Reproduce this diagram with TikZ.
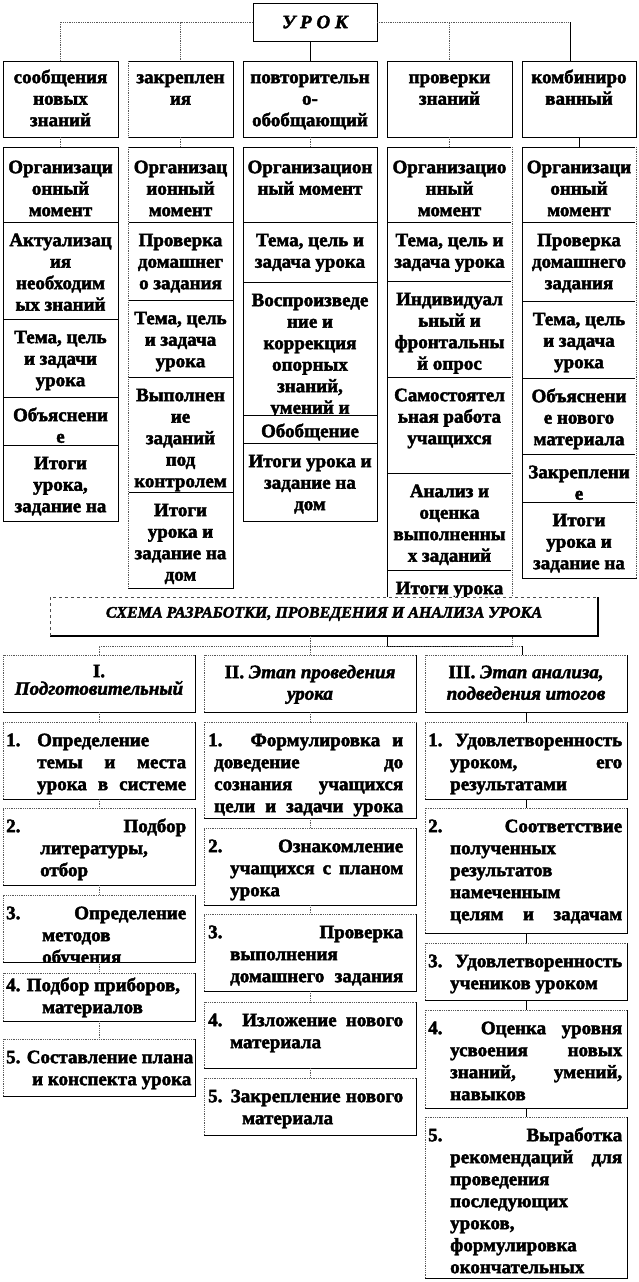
\documentclass[tikz,border=0pt]{standalone}
\usepackage{fontspec}
\setmainfont{Liberation Serif}
\newfontfamily\hb[FakeBold=2.3]{Liberation Serif Bold}
\newfontfamily\hbi[FakeBold=2.3]{Liberation Serif Bold Italic}
\usetikzlibrary{calc}
\tikzset{
  bx/.style={draw=black, line width=0.8pt, inner sep=0pt, outer sep=0pt},
  nb/.style={draw=none, inner sep=0pt, outer sep=0pt},
  ct/.style={align=center, inner sep=0pt, font=\hb\fontsize{19}{21.5}\selectfont},
  lt/.style={align=left, inner sep=0pt, font=\hb\fontsize{19}{22}\selectfont},
  dl/.style={draw=black!65, line width=0.8pt, densely dotted},
  sl/.style={draw=black, line width=0.8pt},
  conn/.style={draw=black!65, line width=0.8pt, densely dotted},
  connS/.style={draw=black, line width=0.8pt},
}
\newcommand\frameA[5]{\node[bx, minimum width={(#4-#2)*1pt}, minimum height={(#5-#3)*1pt}, anchor=north west] (#1) at (#2,#3) {};}
\newcommand\frameB[5]{\node[nb, minimum width={(#4-#2)*1pt}, minimum height={(#5-#3)*1pt}, anchor=north west] (#1) at (#2,#3) {};
  \draw[sl] (#1.north east) -- (#1.south east) -- (#1.south west);
  \draw[dl] (#1.south west) -- (#1.north west) -- (#1.north east);}
\newcommand\ctxt[6]{\begin{scope}\clip (#1.north west) rectangle (#1.south east);
  \node[ct, anchor=north] (#1t) at ({(#2+#4)/2},{#3+#5-17}) {\rule{0pt}{17pt}#6};\end{scope}}
\newcommand\cellC[7]{\frameA{#1}{#2}{#3}{#4}{#5}\ctxt{#1}{#2}{#3}{#4}{#6}{#7}}
\newcommand\cellD[7]{\frameB{#1}{#2}{#3}{#4}{#5}\ctxt{#1}{#2}{#3}{#4}{#6}{#7}}
\newcommand\cellL[8]{\frameB{#1}{#2}{#3}{#4}{#5}%
  \begin{scope}\clip (#1.north west) rectangle (#1.south east);
  \node[lt, anchor=north west] (#1t) at (#6,{#3+#7-17}) {\rule{0pt}{17pt}#8};\end{scope}}
\begin{document}
\begin{tikzpicture}[x=1pt,y=-1pt]
\fill[white] (0,0) rectangle (639,1282);
\useasboundingbox (0,0) rectangle (639,1282);
% ---------- top part ----------
\node[bx, minimum width=124pt, minimum height=38pt, anchor=north west] (urok) at (253,3) {};
\node[inner sep=0pt, font=\hbi\fontsize{19}{21}\selectfont] (urokt) at (315,22) {У Р О К};

\cellC{t1}{3}{61}{118}{137}{22}{сообщения\\новых\\знаний}
\cellC{t2}{128}{61}{233}{137}{22}{закреплен\\ия}
\cellC{t3}{243}{61}{377}{137}{22}{повторительн\\о-\\обобщающий}
\cellC{t4}{387}{61}{512}{137}{22}{проверки\\знаний}
\cellC{t5}{522}{61}{636}{137}{22}{комбиниро\\ванный}

\cellC{c1a}{3}{147}{118}{222}{26}{Организаци\\онный\\момент}
\cellC{c1b}{3}{222}{118}{319}{24}{Актуализац\\ия\\необходим\\ых знаний}
\cellC{c1c}{3}{319}{118}{397}{24}{Тема, цель\\и задачи\\урока}
\cellC{c1d}{3}{397}{118}{445}{24}{Объяснени\\е}
\cellC{c1e}{3}{445}{118}{521}{24}{Итоги\\урока,\\задание на}

\cellC{c2a}{128}{147}{233}{222}{26}{Организац\\ионный\\момент}
\cellC{c2b}{128}{222}{233}{300}{24}{Проверка\\домашнег\\о задания}
\cellC{c2c}{128}{300}{233}{377}{24}{Тема, цель\\и задача\\урока}
\cellC{c2d}{128}{377}{233}{492}{24}{Выполнен\\ие\\заданий\\под\\контролем}
\cellC{c2e}{128}{492}{233}{588}{24}{Итоги\\урока и\\задание на\\дом}

\cellC{c3a}{243}{147}{377}{222}{26}{Организацион\\ный момент}
\cellC{c3b}{243}{222}{377}{282}{24}{Тема, цель и\\задача урока}
\cellC{c3c}{243}{282}{377}{415}{24}{Воспроизведе\\ние и\\коррекция\\опорных\\знаний,\\умений и}
\cellC{c3d}{243}{415}{377}{443}{22}{Обобщение}
\cellC{c3e}{243}{443}{377}{521}{24}{Итоги урока и\\задание на\\дом}

\cellC{c4a}{387}{147}{512}{222}{26}{Организацио\\нный\\момент}
\cellC{c4b}{387}{222}{512}{281}{24}{Тема, цель и\\задача урока}
\cellC{c4c}{387}{281}{512}{377}{24}{Индивидуал\\ьный и\\фронтальны\\й опрос}
\cellC{c4d}{387}{377}{512}{473}{24}{Самостоятел\\ьная работа\\учащихся}
\cellC{c4e}{387}{473}{512}{570}{24}{Анализ и\\оценка\\выполненны\\х заданий}
\cellC{c4f}{387}{570}{512}{646}{24}{Итоги урока}

\cellC{c5a}{522}{147}{636}{222}{26}{Организаци\\онный\\момент}
\cellC{c5b}{522}{222}{636}{301}{24}{Проверка\\домашнего\\задания}
\cellC{c5c}{522}{301}{636}{378}{24}{Тема, цель\\и задача\\урока}
\cellC{c5d}{522}{378}{636}{454}{24}{Объяснени\\е нового\\материала}
\cellC{c5e}{522}{454}{636}{502}{24}{Закреплени\\е}
\cellC{c5f}{522}{502}{636}{578}{24}{Итоги\\урока и\\задание на}

% dotted column edges
\draw[white, line width=1.2pt] (t2.north west) -- (t2.south west) (c2a.north west) -- (c2e.south west)
  (c4a.north east) -- (c4f.south east) (c5a.north east) -- (c5f.south east);
\draw[dl] (t2.north west) -- (t2.south west) (c2a.north west) -- (c2e.south west)
  (c4a.north east) -- (c4f.south east) (c5a.north east) -- (c5f.south east);

% top connectors
\coordinate (k5) at (570,22);
\draw[conn] (urok.west) -| (t1.north);
\draw[conn] (urok.west) -| (t2.north);
\draw[connS] (urok.south -| t3.north) -- (t3.north);
\draw[conn] (urok.east) -| (t4.north);
\draw[conn] (urok.east) -- (k5);
\draw[connS] (k5) -- (k5 |- t5.north);
\draw[conn] (t1.south) -- (c1a.north);
\draw[conn] (t2.south) -- (c2a.north);
\draw[conn] (t3.south) -- (c3a.north);
\draw[conn] (t4.south) -- (c4a.north);
\draw[connS] (t5.south) -- (c5a.north);

% ---------- scheme title ----------
\node[nb, fill=white, minimum width=548pt, minimum height=39pt, anchor=north west] (sch) at (50,597) {};
\draw[draw=black, line width=1.4pt] (sch.north east) -- (sch.south east) -- (sch.south west);
\draw[draw=black!70, line width=0.8pt, dashed] (sch.south west) -- (sch.north west) -- (sch.north east);
\node[inner sep=0pt, font=\hbi\fontsize{16}{18}\selectfont] (scht) at (324,614) {СХЕМА РАЗРАБОТКИ, ПРОВЕДЕНИЯ И АНАЛИЗА УРОКА};

% ---------- phases ----------
\cellD{ph1}{3}{655}{195}{712}{22}{I.\\[-4pt]{\hbi Подготовительный}}
\cellD{ph2}{204}{655}{416}{712}{23}{II. {\hbi Этап проведения}\\{\hbi урока}}
\cellD{ph3}{425}{655}{627}{712}{23}{III. {\hbi Этап анализа,}\\{\hbi подведения итогов}}

\coordinate (lb) at (310,646);
\coordinate (rb) at (522,646);
\draw[conn] (sch.south -| ph2.north) -- (ph2.north);
\draw[conn] (ph1.north) |- (lb);
\draw[conn] (lb) -- (rb);
\draw[connS] (rb) -- (rb |- ph3.north);

% column I
\cellL{i1a}{3}{722}{195}{799}{6}{24}{\makebox[31pt][l]{1.}Определение\\\hspace*{31pt}\makebox[149pt][s]{темы и места}\\\hspace*{31pt}\makebox[149pt][s]{урока в системе}}
\cellL{i1b}{3}{808}{195}{885}{6}{24}{\makebox[180pt][s]{2. Подбор}\\\hspace*{34pt}литературы,\\\hspace*{34pt}отбор}
\cellL{i1c}{3}{895}{195}{962}{6}{24}{\makebox[180pt][s]{3. Определение}\\\hspace*{36pt}методов\\\hspace*{36pt}обучения}
\cellL{i1d}{3}{973}{195}{1021}{6}{18}{4. Подбор приборов,\\\hspace*{36pt}материалов}
\cellL{i1e}{3}{1039}{195}{1096}{6}{24}{5. Составление плана\\\hspace*{26pt}и конспекта урока}

% column II
\cellL{i2a}{204}{722}{416}{818}{208}{24}{\makebox[195pt][s]{1. Формулировка и}\\\hspace*{6pt}\makebox[189pt][s]{доведение до}\\\hspace*{6pt}\makebox[189pt][s]{сознания учащихся}\\\hspace*{6pt}\makebox[189pt][s]{цели и задачи урока}}
\cellL{i2b}{204}{828}{416}{905}{208}{24}{\makebox[195pt][s]{2. Ознакомление}\\\hspace*{22pt}\makebox[173pt][s]{учащихся с планом}\\\hspace*{22pt}урока}
\cellL{i2c}{204}{914}{416}{991}{208}{24}{\makebox[195pt][s]{3. Проверка}\\\hspace*{22pt}выполнения\\\hspace*{22pt}\makebox[173pt][s]{домашнего задания}}
\cellL{i2d}{204}{1002}{416}{1068}{208}{24}{\makebox[195pt][s]{4. Изложение нового}\\\hspace*{22pt}материала}
\cellL{i2e}{204}{1078}{416}{1135}{208}{24}{\makebox[195pt][s]{5. Закрепление нового}\\\hspace*{34pt}материала}

% column III
\cellL{i3a}{425}{722}{627}{799}{428}{24}{\makebox[194pt][s]{1. Удовлетворенность}\\\hspace*{22pt}\makebox[172pt][s]{уроком, его}\\\hspace*{22pt}результатами}
\cellL{i3b}{425}{808}{627}{933}{428}{24}{\makebox[194pt][s]{2. Соответствие}\\\hspace*{22pt}полученных\\\hspace*{22pt}результатов\\\hspace*{22pt}намеченным\\\hspace*{22pt}\makebox[172pt][s]{целям и задачам}}
\cellL{i3c}{425}{943}{627}{1000}{428}{24}{\makebox[194pt][s]{3. Удовлетворенность}\\\hspace*{22pt}учеников уроком}
\cellL{i3d}{425}{1010}{627}{1108}{428}{24}{\makebox[194pt][s]{4. Оценка уровня}\\\hspace*{22pt}\makebox[172pt][s]{усвоения новых}\\\hspace*{22pt}\makebox[172pt][s]{знаний, умений,}\\\hspace*{22pt}навыков}
\cellL{i3e}{425}{1117}{627}{1278}{428}{24}{\makebox[194pt][s]{5. Выработка}\\\hspace*{22pt}\makebox[172pt][s]{рекомендаций для}\\\hspace*{22pt}проведения\\\hspace*{22pt}последующих\\\hspace*{22pt}уроков,\\\hspace*{22pt}формулировка\\\hspace*{22pt}окончательных}

% item connectors
\draw[conn] (ph1.south) -- (i1a.north);
\draw[conn] (i1a.south) -- (i1b.north);
\draw[conn] (i1b.south) -- (i1c.north);
\draw[conn] (i1c.south) -- (i1d.north);
\draw[conn] (i1d.south) -- (i1e.north);
\draw[conn] (ph2.south) -- (i2a.north);
\draw[conn] (i2a.south) -- (i2b.north);
\draw[conn] (i2b.south) -- (i2c.north);
\draw[conn] (i2c.south) -- (i2d.north);
\draw[conn] (i2d.south) -- (i2e.north);
\draw[connS] (ph3.south) -- (i3a.north);
\draw[connS] (i3a.south) -- (i3b.north);
\draw[connS] (i3b.south) -- (i3c.north);
\draw[connS] (i3c.south) -- (i3d.north);
\draw[connS] (i3d.south) -- (i3e.north);
\end{tikzpicture}
\end{document}
